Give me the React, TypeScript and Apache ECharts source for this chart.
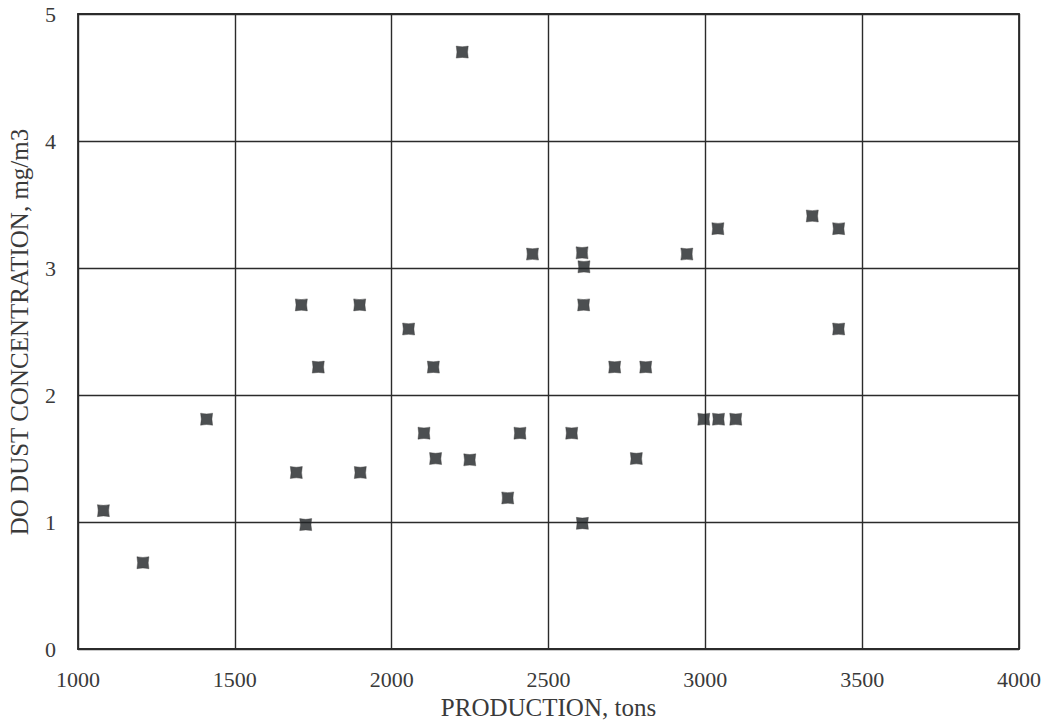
import React, { useEffect, useRef } from "react";
import * as echarts from "echarts";

const production: number[] = [
  1081, 1207, 1410, 1712, 1898, 2054, 1766, 2133, 2103, 2140, 2249, 1696,
  1900, 1726, 2409, 2370, 2574, 2608, 2449, 2607, 2613, 2941, 3040, 3425,
  2612, 3425, 2711, 2810, 2995, 3042, 3097, 2780, 3341, 2225,
];
const dust: number[] = [
  1.09, 0.68, 1.81, 2.71, 2.71, 2.52, 2.22, 2.22, 1.7, 1.5, 1.49, 1.39,
  1.39, 0.98, 1.7, 1.19, 1.7, 0.99, 3.11, 3.12, 3.01, 3.11, 3.31, 3.31,
  2.71, 2.52, 2.22, 2.22, 1.81, 1.81, 1.81, 1.5, 3.41, 4.7,
];
const xTicks = [1000, 1500, 2000, 2500, 3000, 3500, 4000];
const yTicks = [0, 1, 2, 3, 4, 5];
const xTitle = "PRODUCTION, tons";
const yTitle = "DO DUST CONCENTRATION, mg/m3";

const FONT = "'Liberation Serif', 'DejaVu Serif', serif";
const INK = "#2b2b2b";
const TEXT = "#3a3a3a";

export default function App() {
  const ref = useRef<HTMLDivElement>(null);
  useEffect(() => {
    if (!ref.current) return;
    const chart = echarts.init(ref.current, undefined, { renderer: "svg" });
    const points = production.map((p, i) => [p, dust[i]]);
    const lineStyle = { color: INK, width: 1.8 };
    chart.setOption({
      animation: false,
      backgroundColor: "#ffffff",
      grid: { left: 78, right: 32, top: 14, bottom: 70, containLabel: false },
      xAxis: [
        {
          type: "value",
          min: xTicks[0],
          max: xTicks[xTicks.length - 1],
          interval: 500,
          name: xTitle,
          nameLocation: "middle",
          nameGap: 44,
          nameTextStyle: { fontFamily: FONT, fontSize: 25, color: TEXT },
          axisLine: { show: true, lineStyle },
          axisTick: { show: false },
          axisLabel: {
            fontFamily: FONT, fontSize: 22, color: TEXT, margin: 19,
            formatter: (v: number) => String(v),
          },
          splitLine: { show: true, lineStyle: { color: INK, width: 1.4 } },
        },
        {
          type: "value", position: "top", min: xTicks[0], max: xTicks[xTicks.length - 1], interval: 500,
          axisLine: { show: true, onZero: false, lineStyle },
          axisTick: { show: false }, axisLabel: { show: false }, splitLine: { show: false },
        },
      ],
      yAxis: [
        {
          type: "value",
          min: yTicks[0],
          max: yTicks[yTicks.length - 1],
          interval: 1,
          axisLine: { show: true, lineStyle },
          axisTick: { show: false },
          axisLabel: {
            fontFamily: FONT, fontSize: 22, color: TEXT, margin: 22,
            formatter: (v: number) => String(v),
          },
          splitLine: { show: true, lineStyle: { color: INK, width: 1.4 } },
        },
        {
          type: "value", position: "right", min: yTicks[0], max: yTicks[yTicks.length - 1], interval: 1,
          axisLine: { show: true, onZero: false, lineStyle },
          axisTick: { show: false }, axisLabel: { show: false }, splitLine: { show: false },
        },
      ],
      graphic: [
        {
          type: "text",
          x: 19,
          y: 332,
          rotation: Math.PI / 2,
          style: {
            text: yTitle,
            fill: TEXT,
            font: `25px ${FONT}`,
            textAlign: "center",
            textVerticalAlign: "middle",
          },
        },
      ],
      series: [
        {
          type: "scatter",
          data: points,
          symbol: "path://M0,0 Q5,1.2 10,0 Q8.8,5 10,10 Q5,8.8 0,10 Q1.2,5 0,0 Z",
          symbolSize: 12,
          itemStyle: { color: "#1f2325", borderColor: "#3a3a3a", borderWidth: 0.5 },
        },
      ],
    });
    return () => chart.dispose();
  }, []);
  return (
    <div
      ref={ref}
      style={{ position: "fixed", left: 0, top: 0, width: 1051, height: 725 }}
    />
  );
}
